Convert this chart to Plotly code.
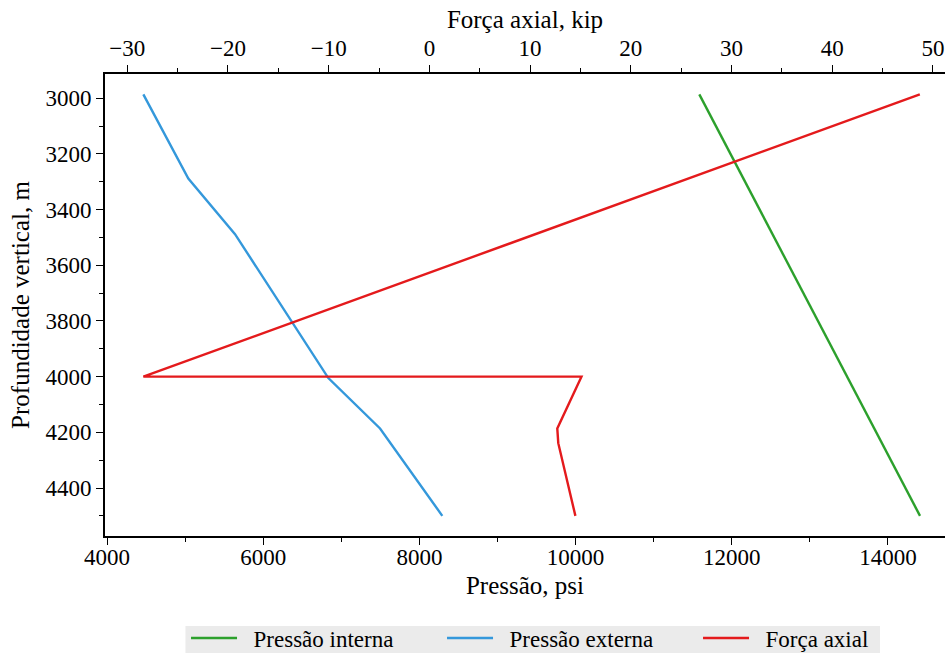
import plotly.graph_objects as go

# Pressão interna (psi) vs profundidade (m)
prof_interna = [2986, 4500]
pressao_interna = [11584, 14410]

# Pressão externa (psi)
prof_externa = [2986, 3288, 3488, 4005, 4186, 4500]
pressao_externa = [4465, 5041, 5639, 6834, 7496, 8293]

# Força axial (kip)
prof_axial = [2986, 4000, 4000, 4186, 4239, 4500]
forca_axial = [48.7, -28.4, 15.1, 12.7, 12.8, 14.5]

FONT = "Liberation Serif"
VERDE = "#2ca02c"
AZUL = "#3498db"
VERMELHO = "#e41a1c"
GAP = "\u00a0\u00a0"  # espaço entre a amostra da linha e o texto da legenda

fig = go.Figure()
fig.add_trace(go.Scatter(x=pressao_interna, y=prof_interna, mode="lines",
                         name=GAP + "Pressão interna", line=dict(color=VERDE, width=2.4)))
fig.add_trace(go.Scatter(x=pressao_externa, y=prof_externa, mode="lines",
                         name=GAP + "Pressão externa", line=dict(color=AZUL, width=2.4)))
fig.add_trace(go.Scatter(x=forca_axial, y=prof_axial, mode="lines", xaxis="x2",
                         name=GAP + "Força axial", line=dict(color=VERMELHO, width=2.4)))

tick_font = dict(family=FONT, size=23, color="black")
title_font = dict(family=FONT, size=25, color="black")

axis_common = dict(
    showgrid=False, zeroline=False, showline=True, linecolor="black", linewidth=2,
    ticks="outside", ticklen=7, tickwidth=1.3, tickcolor="black",
    tickfont=tick_font, tickformat="d", automargin=False,
)

# fundo da legenda (cinza claro), desenhado atrás das entradas
fig.add_shape(type="rect", xref="paper", yref="paper", layer="below",
              x0=0.0958, x1=0.9226, y0=-0.32, y1=-0.1948,
              fillcolor="#ebebeb", line=dict(width=0))

fig.update_layout(
    width=945, height=653,
    margin=dict(l=105, r=0, t=74, b=117, autoexpand=False),
    plot_bgcolor="white", paper_bgcolor="white",
    font=dict(family=FONT, color="black"),
    xaxis=dict(
        **axis_common,
        range=[3974, 14730], dtick=2000, tick0=0,
        ticklabelstandoff=-8,
        minor=dict(dtick=1000, ticks="outside", ticklen=4, tickwidth=1.1, tickcolor="black"),
        title=dict(text="Pressão, psi", font=title_font, standoff=8),
    ),
    xaxis2=dict(
        **axis_common,
        overlaying="x", side="top", anchor="y",
        range=[-32.21, 51.2], dtick=10, tick0=0,
        minor=dict(dtick=5, ticks="outside", ticklen=4, tickwidth=1.1, tickcolor="black"),
        title=dict(text="Força axial, kip", font=title_font, standoff=0),
    ),
    yaxis=dict(
        **axis_common,
        range=[4572.4, 2912.7], dtick=200, tick0=0,
        minor=dict(dtick=100, ticks="outside", ticklen=4, tickwidth=1.1, tickcolor="black"),
        title=dict(text="Profundidade vertical, m", font=title_font, standoff=9),
    ),
    legend=dict(
        orientation="h", xref="container", yref="container",
        x=0.6032, xanchor="center", y=1 - 638 / 653, yanchor="middle",
        bgcolor="rgba(0,0,0,0)", borderwidth=0,
        font=dict(family=FONT, size=23, color="black"),
        itemwidth=46, entrywidth=195,
    ),
)

# remove a margem padrão do <body> para a figura ocupar a janela inteira
fig.write_html("out.html", config={"displayModeBar": False},
               post_script="document.body.style.margin='0';")
